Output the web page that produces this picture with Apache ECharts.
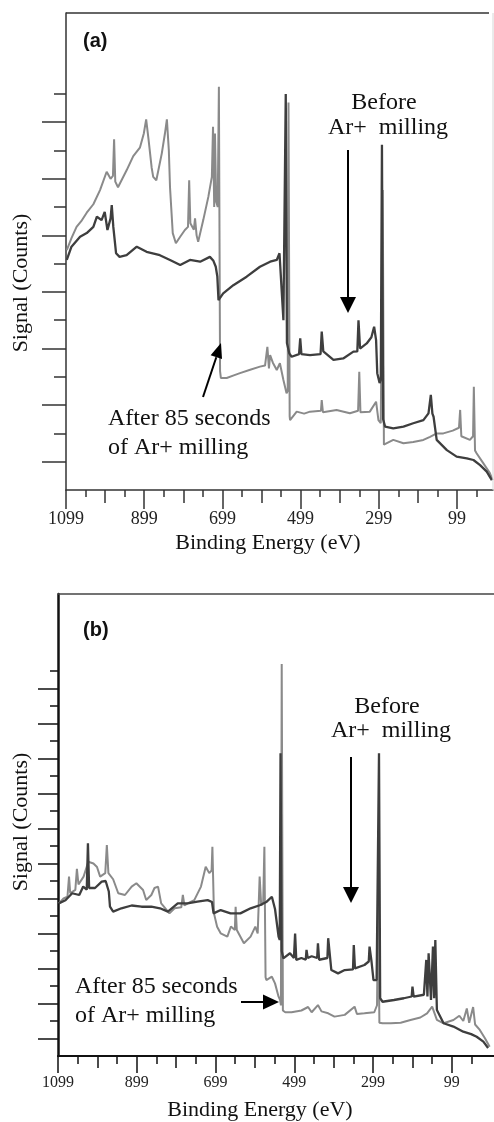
<!DOCTYPE html>
<html>
<head>
<meta charset="utf-8">
<script src="https://cdn.jsdelivr.net/npm/echarts@6/dist/echarts.min.js"></script>
<style>
html,body{margin:0;padding:0;background:#fff;}
#chart{width:494px;height:1122px;}
</style>
</head>
<body>
<div id="chart"></div>
<script>
// ---------- DATA (energy eV, signal in tick units) ----------
const majorTicks = [1099, 899, 699, 499, 299, 99];
const midTicks = [999, 799, 599, 399, 199];
const minorTicks = [1049, 949, 849, 749, 649, 549, 449, 349, 249, 149, 49];
const yTicksLongA = [1, 3, 5, 7, 9, 11, 13];
const yTicksShortA = [2, 4, 6, 8, 10, 12, 14];
const yTicksLongB = [1, 3, 5, 7, 9, 11, 13, 15, 17, 19, 21];
const yTicksShortB = [2, 4, 6, 8, 10, 12, 14, 16, 18, 20, 22];

// Panel (a): after 85 s Ar+ milling (light grey)
const aAfter = [
 [1097,8.48],[1085,8.9],[1072,9.3],[1060,9.5],[1046,9.8],[1029,10.1],[1012,10.6],[995,11.25],
 [985,11.0],[979,11.1],[976,12.4],[973,10.9],[966,10.7],[955,11.0],[944,11.3],[927,11.8],
 [910,12.1],[900,12.6],[894,13.1],[888,12.4],[880,11.4],[876,11.07],[868,10.95],[854,11.9],
 [846,12.6],[841,13.1],[836,12.0],[833,10.7],[826,9.08],[818,8.72],[807,8.95],[795,9.19],
 [787,9.3],[784,10.95],[781,9.43],[772,9.2],[769,9.6],[765,9.0],[761,8.77],[748,9.54],
 [735,10.36],[726,11.07],[723,12.84],[720,10.0],[718,12.6],[715,10.2],[711,10.0],[708,14.25],
 [705,4.2],[703,3.96],[688,3.96],[670,4.05],[654,4.13],[630,4.24],[603,4.36],[590,4.4],
 [584,5.06],[580,4.3],[577,4.77],[570,4.5],[560,4.24],[552,4.48],[543,3.89],[535,3.42],
 [532,3.5],[530,13.7],[527,2.6],[526,2.47],[509,2.77],[490,2.7],[475,2.77],[447,2.8],
 [445,3.18],[442,2.75],[407,2.83],[373,2.71],[352,2.8],[349,4.18],[346,2.75],[322,2.77],
 [306,3.12],[300,2.47],[294,2.36],[289,10.6],[286,1.6],[283,1.53],[262,1.77],[236,1.65],
 [211,1.7],[185,1.77],[168,1.88],[151,2.0],[134,2.0],[110,2.1],[94,2.2],[91,2.83],
 [88,1.9],[66,1.77],[58,1.9],[56,3.65],[53,1.4],[49,1.3],[32,0.95],[15,0.6],[8,0.35]
];
// Panel (a): before Ar+ milling (dark grey)
const aBefore = [
 [1097,8.13],[1085,8.6],[1063,8.95],[1046,9.08],[1029,9.3],[1020,9.66],[1008,9.54],[1000,9.83],
 [993,9.19],[985,9.6],[982,10.07],[978,9.3],[971,8.37],[962,8.24],[944,8.3],[918,8.6],
 [893,8.42],[859,8.3],[833,8.13],[807,7.95],[782,8.13],[756,8.07],[731,8.24],[722,8.1],
 [716,7.89],[712,7.54],[709,6.71],[697,6.95],[671,7.24],[637,7.54],[603,7.89],[577,8.07],
 [560,8.13],[553,8.37],[547,6.95],[543,6.0],[540,6.0],[537,14.0],[534,5.2],[528,4.83],
 [522,4.71],[503,4.8],[500,5.36],[497,4.8],[475,4.77],[448,4.8],[445,5.6],[441,4.9],
 [415,4.6],[390,4.65],[364,4.89],[354,4.9],[351,6.0],[347,5.0],[330,5.18],[318,5.4],
 [311,5.77],[306,5.3],[303,4.13],[297,3.78],[294,3.9],[291,12.2],[288,2.5],[283,2.24],
 [262,2.18],[236,2.24],[211,2.36],[185,2.47],[172,2.71],[166,3.36],[162,2.7],[159,2.59],
 [151,1.77],[125,1.41],[100,1.18],[74,1.12],[57,1.06],[40,0.88],[23,0.65],[10,0.35]
];
// Panel (b): after 85 s Ar+ milling (light grey)
const bAfter = [
 [1097,8.72],[1085,9.0],[1075,9.1],[1071,10.25],[1068,9.3],[1055,9.49],[1051,10.7],[1047,9.8],
 [1034,10.25],[1022,11.1],[1009,11.0],[1000,10.8],[992,10.25],[979,10.45],[975,12.06],[971,10.45],
 [959,10.1],[946,9.3],[929,9.2],[912,9.68],[900,9.87],[883,9.49],[875,8.91],[862,9.2],
 [854,9.6],[845,9.68],[837,8.72],[816,8.15],[803,8.44],[786,8.5],[782,9.2],[778,8.6],
 [770,8.72],[753,8.91],[736,9.68],[724,10.82],[715,10.45],[709,10.6],[707,11.96],[703,8.15],
 [695,7.39],[686,7.01],[669,6.82],[660,7.4],[650,7.2],[648,8.53],[645,7.2],[627,6.44],
 [610,6.82],[598,7.39],[592,7.0],[587,10.25],[583,8.6],[578,8.8],[575,11.96],[572,4.5],
 [570,4.34],[556,4.53],[548,4.15],[539,3.39],[535,3.2],[533,2.9],[531,22.4],[528,2.6],
 [522,2.5],[506,2.5],[481,2.6],[464,2.8],[455,2.5],[439,2.91],[430,2.55],[413,2.44],
 [397,2.25],[371,2.35],[346,2.82],[340,2.4],[321,2.44],[296,2.5],[289,2.9],[286,9.0],
 [283,1.9],[275,1.87],[254,1.87],[229,1.9],[204,2.06],[179,2.2],[162,2.44],[149,2.82],
 [137,2.06],[120,1.87],[95,2.06],[80,2.3],[70,2.0],[61,2.72],[55,1.9],[45,2.8],
 [40,1.8],[28,1.49],[15,1.01],[3,0.53]
];
// Panel (b): before Ar+ milling (dark grey)
const bBefore = [
 [1097,8.72],[1080,8.9],[1063,9.3],[1045,9.2],[1035,9.68],[1026,9.5],[1023,12.15],[1020,9.6],
 [1005,9.6],[988,9.96],[978,10.0],[970,9.4],[967,8.53],[959,8.25],[938,8.44],[912,8.6],
 [887,8.53],[862,8.53],[840,8.44],[820,8.25],[795,8.72],[770,8.72],[745,8.82],[719,8.91],
 [708,8.8],[704,8.15],[686,8.34],[661,8.15],[636,8.15],[610,8.44],[585,8.63],[569,8.82],
 [556,9.1],[548,8.4],[539,6.82],[536,6.63],[534,17.3],[531,6.0],[527,5.58],[510,5.87],
 [500,5.6],[497,7.0],[494,5.49],[481,5.6],[470,5.5],[468,6.06],[465,5.6],[455,5.7],
 [441,5.6],[439,6.44],[436,5.5],[415,5.6],[413,6.73],[405,4.91],[388,4.72],[371,4.91],
 [350,4.95],[348,6.34],[345,5.01],[321,5.2],[310,5.4],[308,6.25],[303,5.4],[298,4.34],
 [290,4.34],[287,4.3],[284,17.3],[281,3.3],[275,3.1],[246,3.2],[221,3.3],[201,3.4],
 [199,3.96],[196,3.39],[170,3.5],[164,5.49],[161,3.4],[158,5.87],[152,3.2],[147,6.25],
 [144,3.3],[141,6.63],[137,2.63],[120,1.87],[95,1.68],[70,1.39],[50,1.25],[36,1.1],
 [19,0.82],[7,0.46]
];

// ---------- CHART ----------
const SERIF = '"Liberation Serif", "Times New Roman", serif';
const LIGHT = '#8a8a8a';
const DARK = '#3e3e3e';

function xAxes(grid, min, max, lens, labelSize, margin, lineColor, lineWidth) {
  const base = {gridIndex: grid, type: 'value', inverse: true, min: min, max: max,
    splitLine: {show: false}, position: 'bottom', offset: 0};
  return [
    Object.assign({}, base, {
      axisLine: {show: true, onZero: false, lineStyle: {color: lineColor, width: lineWidth}},
      axisTick: {show: true, customValues: majorTicks, length: lens[2], lineStyle: {color: lineColor, width: 1.5}},
      axisLabel: {show: true, customValues: majorTicks, margin: margin, fontFamily: SERIF,
        fontSize: labelSize, color: '#222', formatter: function (v) { return String(v); }}
    }),
    Object.assign({}, base, {
      axisLine: {show: false, onZero: false},
      axisTick: {show: true, customValues: midTicks, length: lens[1], lineStyle: {color: lineColor, width: 1.5}},
      axisLabel: {show: false}
    }),
    Object.assign({}, base, {
      axisLine: {show: false, onZero: false},
      axisTick: {show: true, customValues: minorTicks, length: lens[0], lineStyle: {color: lineColor, width: 1.5}},
      axisLabel: {show: false}
    })
  ];
}
function yAxes(grid, max, longT, shortT, lenLong, lenShort, lineColor, lineWidth) {
  const base = {gridIndex: grid, type: 'value', min: 0, max: max, splitLine: {show: false},
    axisLabel: {show: false}, position: 'left', offset: 0};
  return [
    Object.assign({}, base, {
      axisLine: {show: true, onZero: false, lineStyle: {color: lineColor, width: lineWidth}},
      axisTick: {show: true, customValues: longT, length: lenLong, lineStyle: {color: lineColor, width: 1.5}}
    }),
    Object.assign({}, base, {
      axisLine: {show: false, onZero: false},
      axisTick: {show: true, customValues: shortT, length: lenShort, lineStyle: {color: lineColor, width: 1.5}}
    })
  ];
}

function txt(text, x, y, opts) {
  opts = opts || {};
  return {type: 'text', x: x, y: y, rotation: opts.rotation || 0, z: 100,
    style: {text: text, font: opts.font || ('24px ' + SERIF), fill: '#111',
      textAlign: opts.align || 'left', textVerticalAlign: 'middle'}};
}
function seg(x1, y1, x2, y2, color, w) {
  return {type: 'line', z: 100, shape: {x1: x1, y1: y1, x2: x2, y2: y2},
    style: {stroke: color || '#000', lineWidth: w || 2}};
}
function head(pts) {
  return {type: 'polygon', z: 100, shape: {points: pts}, style: {fill: '#000'}};
}

const option = {
  animation: false,
  backgroundColor: '#fff',
  grid: [
    {left: 66, top: 13, width: 427, height: 477, show: false},
    {left: 58, top: 594, width: 440, height: 462, show: false}
  ],
  xAxis: [].concat(
    xAxes(0, 7, 1099, [7, 13, 19], 18, 20, '#333', 1.5),
    xAxes(1, -8, 1099, [8, 12, 17], 16, 19, '#111', 2.2)
  ),
  yAxis: [].concat(
    yAxes(0, 16.86, yTicksLongA, yTicksShortA, 24, 12, '#333', 1.5),
    yAxes(1, 26.4, yTicksLongB, yTicksShortB, 20, 8, '#111', 2.5)
  ),
  series: [
    {type: 'line', name: 'After (a)', xAxisIndex: 0, yAxisIndex: 0, data: aAfter,
      showSymbol: false, symbol: 'none', lineStyle: {color: LIGHT, width: 2}},
    {type: 'line', name: 'Before (a)', xAxisIndex: 0, yAxisIndex: 0, data: aBefore,
      showSymbol: false, symbol: 'none', lineStyle: {color: DARK, width: 2.3}},
    {type: 'line', name: 'After (b)', xAxisIndex: 3, yAxisIndex: 2, data: bAfter,
      showSymbol: false, symbol: 'none', lineStyle: {color: LIGHT, width: 2}},
    {type: 'line', name: 'Before (b)', xAxisIndex: 3, yAxisIndex: 2, data: bBefore,
      showSymbol: false, symbol: 'none', lineStyle: {color: DARK, width: 2.3}}
  ],
  graphic: [
    // panel (a) frame
    seg(66, 13, 489, 13, '#333', 1.5),
    seg(493, 13, 493, 490, '#d6d6d6', 1),
    txt('(a)', 83, 41, {font: 'bold 20px "Liberation Sans", Arial, sans-serif'}),
    txt('Before', 384, 103, {align: 'center'}),
    txt('Ar+  milling', 388, 128, {align: 'center'}),
    seg(348, 150, 348, 299, '#000', 2),
    head([[340, 297], [356, 297], [348, 313]]),
    txt('After 85 seconds', 108, 419),
    txt('of Ar+ milling', 108, 448),
    seg(203, 397, 216.3, 357.2, '#000', 2),
    head([[222, 359.1], [210.6, 355.3], [221, 343]]),
    txt('Signal (Counts)', 21, 283, {align: 'center', rotation: Math.PI / 2, font: '22px ' + SERIF}),
    txt('Binding Energy (eV)', 268, 543, {align: 'center', font: '22px ' + SERIF}),
    // panel (b)
    seg(58, 594, 494, 594, '#444', 1.5),
    txt('(b)', 83, 630, {font: 'bold 20px "Liberation Sans", Arial, sans-serif'}),
    txt('Before', 387, 707, {align: 'center'}),
    txt('Ar+  milling', 391, 731, {align: 'center'}),
    seg(351, 757, 351, 889, '#000', 2),
    head([[343, 887], [359, 887], [351, 903]]),
    txt('After 85 seconds', 75, 987),
    txt('of Ar+ milling', 75, 1016),
    seg(241, 1002, 265, 1002, '#000', 2),
    head([[263, 994.5], [263, 1009.5], [279, 1002]]),
    txt('Signal (Counts)', 21, 822, {align: 'center', rotation: Math.PI / 2, font: '22px ' + SERIF}),
    txt('Binding Energy (eV)', 260, 1110, {align: 'center', font: '22px ' + SERIF})
  ]
};

const chart = echarts.init(document.getElementById('chart'), null, {renderer: 'canvas'});
chart.setOption(option);
</script>
</body>
</html>
